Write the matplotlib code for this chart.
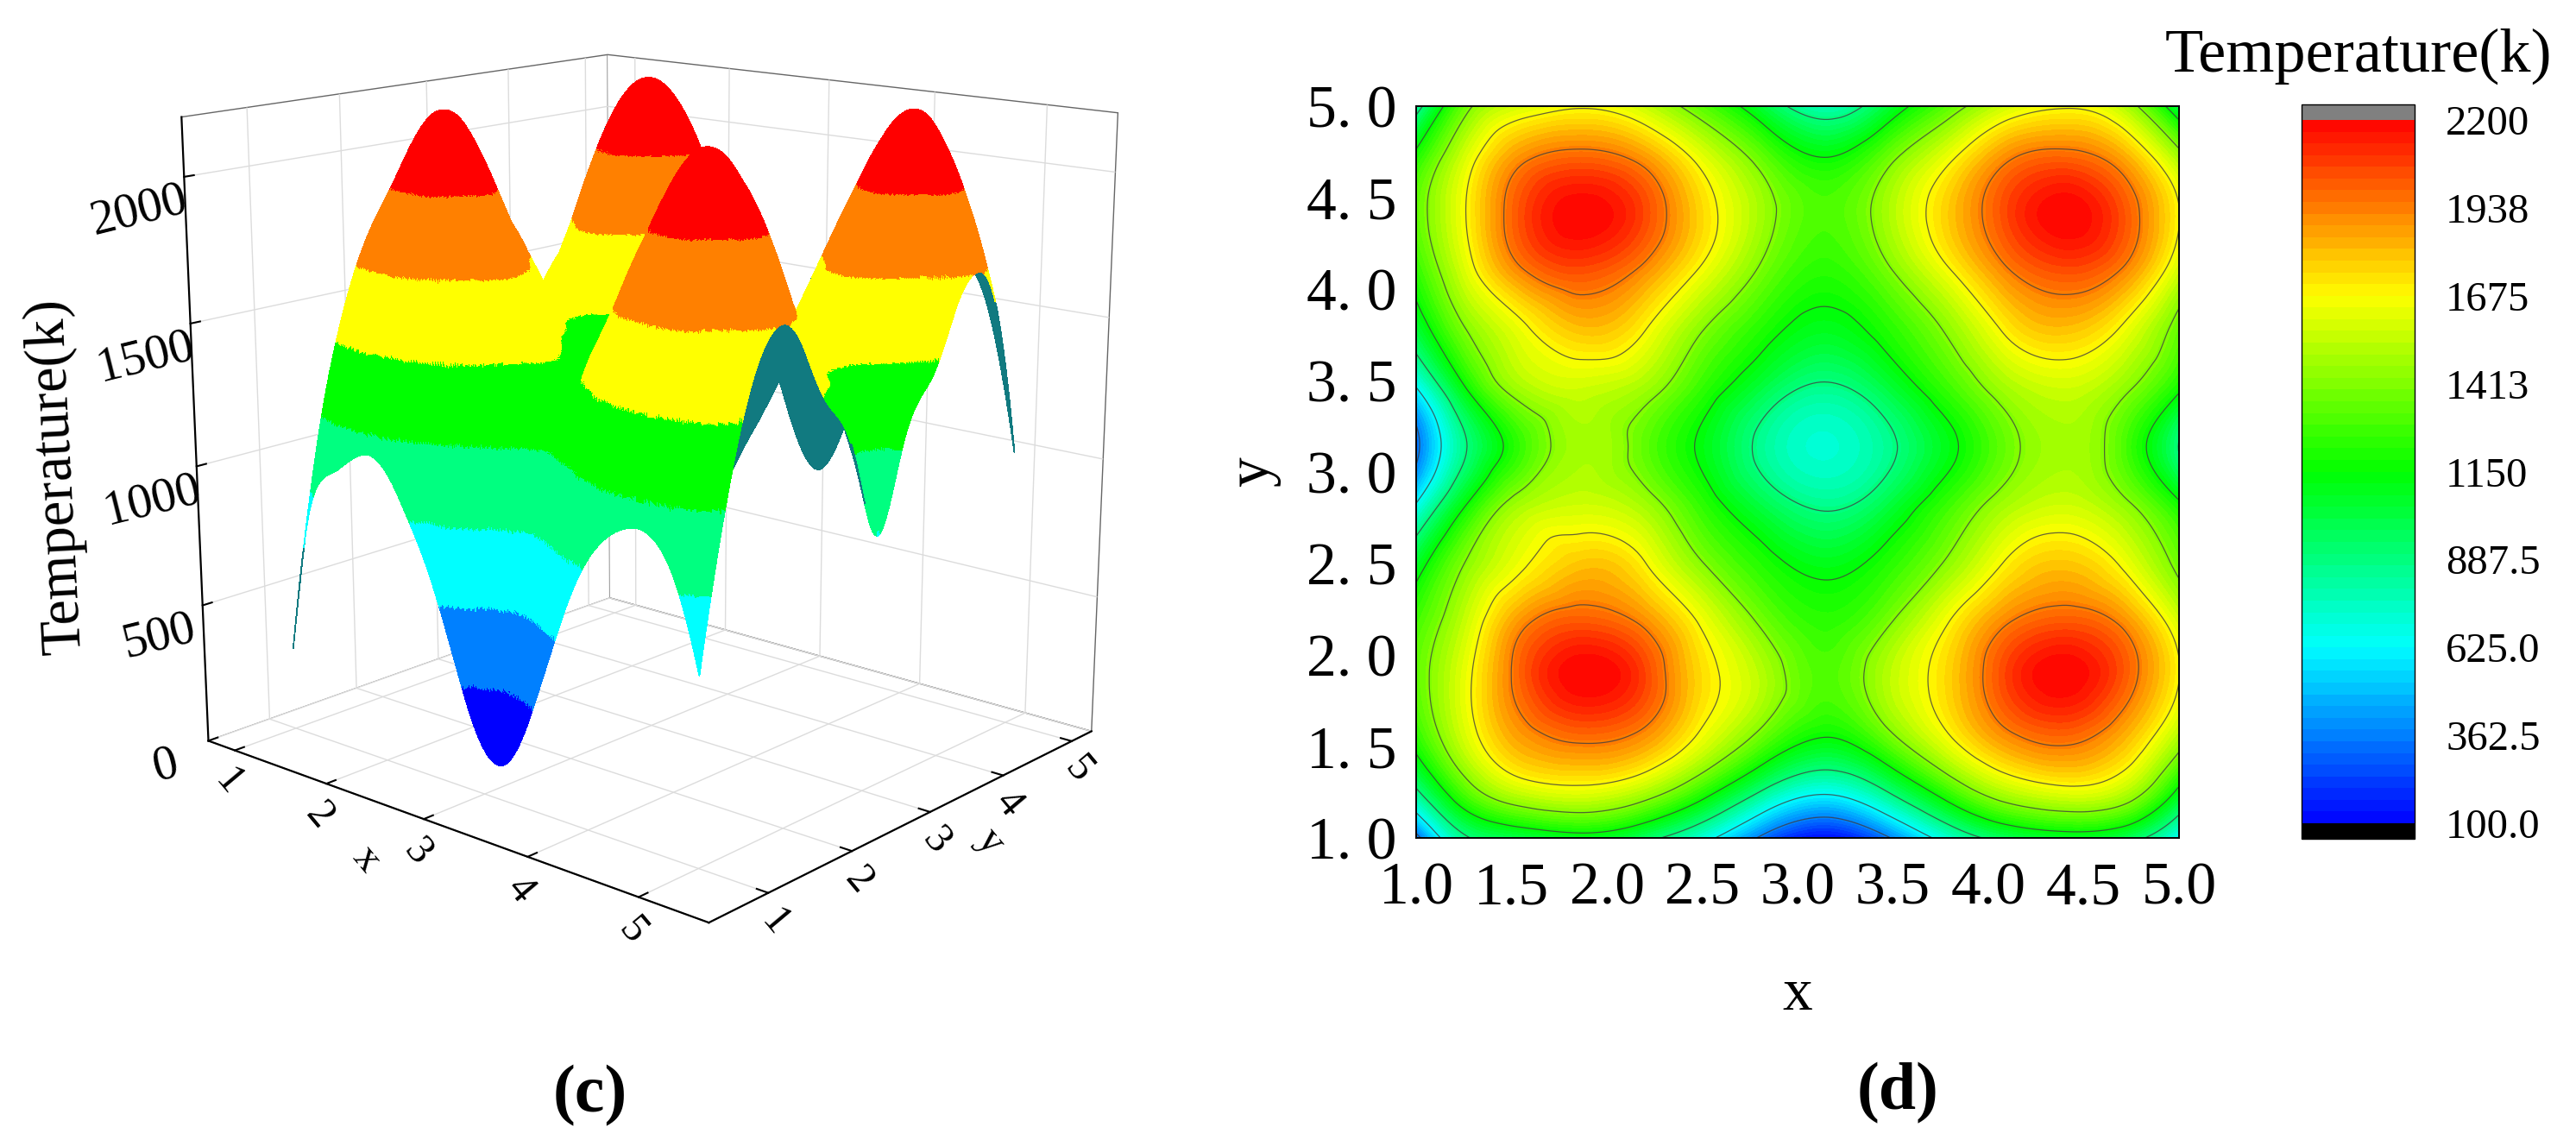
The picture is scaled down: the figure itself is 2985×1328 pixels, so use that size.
import numpy as np
import matplotlib
matplotlib.use("Agg")
import matplotlib.pyplot as plt
import matplotlib.tri as mtri
from matplotlib.colors import LinearSegmentedColormap, ListedColormap, BoundaryNorm
from mpl_toolkits.mplot3d import proj3d
from mpl_toolkits.mplot3d.art3d import Poly3DCollection

plt.rcParams['font.family'] = ['Liberation Serif', 'DejaVu Serif']
plt.rcParams['grid.color'] = '#dcdcdc'
plt.rcParams['grid.linewidth'] = 1.0

# ---- data ----
x_nodes = [1.0, 1.25, 1.55, 1.86, 2.2, 2.5, 2.82, 3.14, 3.46, 3.78, 4.08, 4.41, 4.72, 5.0]
y_nodes = [1.0, 1.25, 1.55, 1.9, 2.2, 2.5, 2.82, 3.14, 3.46, 3.78, 4.1, 4.4, 4.72, 5.0]
T_y100 = [300, 850, 1000, 1080, 950, 700, 320, 120, 330, 710, 960, 1060, 980, 640]
T_y125 = [850, 1300, 1560, 1620, 1500, 1230, 860, 650, 870, 1240, 1510, 1620, 1520, 1100]
T_y155 = [1230, 1580, 1870, 1970, 1890, 1640, 1350, 1150, 1350, 1650, 1890, 1980, 1820, 1500]
T_y190 = [1340, 1620, 2000, 2200, 2060, 1740, 1510, 1310, 1510, 1750, 2050, 2200, 2010, 1680]
T_y220 = [1270, 1540, 1880, 2000, 1890, 1640, 1370, 1230, 1370, 1650, 1900, 2000, 1880, 1570]
T_y250 = [1060, 1410, 1650, 1790, 1680, 1420, 1210, 1100, 1210, 1430, 1680, 1790, 1640, 1370]
T_y282 = [640, 1130, 1490, 1570, 1480, 1240, 1000, 860, 1000, 1260, 1480, 1570, 1440, 1180]
T_y314 = [320, 860, 1260, 1490, 1340, 1120, 840, 720, 840, 1100, 1350, 1490, 1290, 880]
T_y346 = [620, 1130, 1490, 1570, 1480, 1250, 1010, 860, 1010, 1260, 1480, 1570, 1440, 1180]
T_y378 = [1030, 1400, 1640, 1800, 1680, 1420, 1210, 1090, 1210, 1430, 1690, 1800, 1640, 1350]
T_y410 = [1240, 1590, 1920, 2040, 1900, 1650, 1380, 1230, 1380, 1650, 1910, 2040, 1910, 1570]
T_y440 = [1340, 1660, 2040, 2200, 2050, 1750, 1470, 1300, 1480, 1770, 2040, 2200, 2020, 1680]
T_y472 = [1200, 1580, 1900, 1990, 1880, 1620, 1340, 1150, 1350, 1630, 1900, 1990, 1840, 1480]
T_y500 = [800, 1350, 1580, 1660, 1550, 1320, 1020, 780, 1020, 1320, 1560, 1660, 1500, 1000]
T_rows = [T_y100, T_y125, T_y155, T_y190, T_y220, T_y250, T_y282, T_y314,
          T_y346, T_y378, T_y410, T_y440, T_y472, T_y500]
level_values = [100, 362.5, 625, 887.5, 1150, 1412.5, 1675, 1937.5, 2200]
level_labels = ['100.0', '362.5', '625.0', '887.5', '1150', '1413', '1675', '1938', '2200']
level_colors = ['#0000ff', '#0080ff', '#00ffff', '#00ff80', '#00ff00', '#80ff00', '#ffff00', '#ff8000', '#ff0000']
band_colors = ['#0000ff', '#0080ff', '#00ffff', '#00ff80', '#00ff00', '#ffff00', '#ff8000', '#ff0000']
xticks2d = [1.0, 1.5, 2.0, 2.5, 3.0, 3.5, 4.0, 4.5, 5.0]
yticklabels2d = ['1. 0', '1. 5', '2. 0', '2. 5', '3. 0', '3. 5', '4. 0', '4. 5', '5. 0']
xticklabels2d = ['1.0', '1.5', '2.0', '2.5', '3.0', '3.5', '4.0', '4.5', '5.0']

W, H = 2985, 1328
fig = plt.figure(figsize=(W / 100, H / 100), dpi=100, facecolor='white')

def px_axes(left, top, right, bottom, **kw):
    return fig.add_axes([left / W, 1 - bottom / H, (right - left) / W, (bottom - top) / H], **kw)

# shared refined field
X, Y = np.meshgrid(x_nodes, y_nodes)
Z = np.array(T_rows, dtype=float)
tri = mtri.Triangulation(X.ravel(), Y.ravel())
refiner = mtri.UniformTriRefiner(tri)
tri_f, z_f = refiner.refine_field(Z.ravel(), subdiv=4)
tri_s, z_s = refiner.refine_field(Z.ravel(), subdiv=5)

# ---- (c) surface ----
ax3 = px_axes(131, -88, 1347, 1128, projection='3d')
ax3.set_proj_type('persp', focal_length=0.5)
ax3.view_init(elev=15, azim=-49)
ax3.set_box_aspect((1.04, 0.96, 1.0), zoom=1.03)
ax3.set_xlim(0.7, 5.6)
ax3.set_ylim(0.33, 5.3)
ax3.set_zlim(0, 2200)
ax3.patch.set_alpha(0)

band_cmap = ListedColormap(band_colors)
band_norm = BoundaryNorm(level_values, band_cmap.N, clip=True)
tris = tri_s.triangles
vx, vy, vz = tri_s.x[tris], tri_s.y[tris], z_s[tris]
verts = np.stack([vx, vy, vz], axis=-1)
rgba = band_cmap(band_norm(vz.mean(axis=1)))
M = ax3.get_proj()
px, py, _ = proj3d.proj_transform(vx.ravel(), vy.ravel(), vz.ravel(), M)
px = px.reshape(vx.shape); py = py.reshape(vx.shape)
area = (px[:, 1] - px[:, 0]) * (py[:, 2] - py[:, 0]) - (px[:, 2] - px[:, 0]) * (py[:, 1] - py[:, 0])
a3 = (vx[:, 1] - vx[:, 0]) * (vy[:, 2] - vy[:, 0]) - (vx[:, 2] - vx[:, 0]) * (vy[:, 1] - vy[:, 0])
back = np.sign(area) != np.sign(a3)
rgba[back] = matplotlib.colors.to_rgba('#117a80')
surf = Poly3DCollection(verts, facecolors=rgba, edgecolors=rgba, linewidths=0.5, antialiaseds=False)
ax3.add_collection3d(surf)

for axis in (ax3.xaxis, ax3.yaxis, ax3.zaxis):
    axis.set_pane_color((1, 1, 1, 1))
    axis.pane.set_edgecolor('#666666')
    axis.pane.set_linewidth(1.0)
    axis.line.set_color('black')
    axis.line.set_linewidth(1.6)
    axis._axinfo['tick']['inward_factor'] = 0.0
    axis._axinfo['tick']['outward_factor'] = 0.25
    axis._axinfo['tick']['linewidth'] = {True: 1.5, False: 1.2}
    axis._axinfo['tick']['color'] = 'black'
ax3.zaxis.set_ticks_position('lower')
ax3.zaxis.set_label_position('lower')

ax3.set_xticks([1, 2, 3, 4, 5]); ax3.set_yticks([1, 2, 3, 4, 5])
ax3.set_zticks([0, 500, 1000, 1500, 2000])
ax3.tick_params(axis='x', labelsize=35, pad=-1, labelrotation=-50)
ax3.tick_params(axis='y', labelsize=35, pad=-3, labelrotation=-50)
ax3.tick_params(axis='z', labelsize=41, pad=14, labelrotation=14)

fig.text(425 / W, 1 - 996 / H, 'x', fontsize=35, rotation=-50, ha='center', va='center')
fig.text(1147 / W, 1 - 975 / H, 'y', fontsize=35, rotation=-50, ha='center', va='center')
fig.text(65 / W, 1 - 551 / H, 'Temperature(k)', fontsize=48, rotation=93, ha='center', va='center')

# ---- (d) heat map ----
ax2 = px_axes(1641, 123, 2525, 971)
cmap = LinearSegmentedColormap.from_list('t', level_colors, N=256).with_extremes(over='#808080', under='black')
fill_levels = np.linspace(100, 2200, 61)
cf = ax2.tricontourf(tri_f, np.clip(z_f, 100.5, 2199), levels=fill_levels, cmap=cmap, extend='both')
ax2.tricontour(tri_f, z_f, levels=level_values[1:-1], colors='#404040', linewidths=0.9, alpha=0.8)
ax2.set_xlim(1, 5); ax2.set_ylim(1, 5)
ax2.set_xticks(xticks2d, xticklabels2d); ax2.set_yticks(xticks2d, yticklabels2d)
ax2.tick_params(length=0, labelsize=50, pad=16)
ax2.tick_params(axis='x', pad=20)
for s in ax2.spines.values():
    s.set_linewidth(1.4)
ax2.set_xlabel('x', fontsize=50)
ax2.xaxis.set_label_coords(0.5, -0.178)
ax2.set_ylabel('y', fontsize=50)
ax2.yaxis.set_label_coords(-0.178, 0.5)

# colour bar
cax = px_axes(2667, 121, 2798, 972)
cb = fig.colorbar(cf, cax=cax, extend='both', extendrect=True, extendfrac=0.022, drawedges=False)
cb.set_ticks(level_values, labels=level_labels)
cb.ax.tick_params(length=0, labelsize=35, pad=26)
cb.ax.minorticks_off()
cb.outline.set_linewidth(1.0)
fig.text(2509 / W, 1 - 65 / H, 'Temperature(k)', fontsize=52, ha='left', va='center')

fig.text(684 / W, 1 - 1270 / H, '(c)', fontsize=56, fontweight='bold', ha='center', va='center')
fig.text(2199 / W, 1 - 1267 / H, '(d)', fontsize=56, fontweight='bold', ha='center', va='center')

fig.savefig('out.png', dpi=100, facecolor='white')
